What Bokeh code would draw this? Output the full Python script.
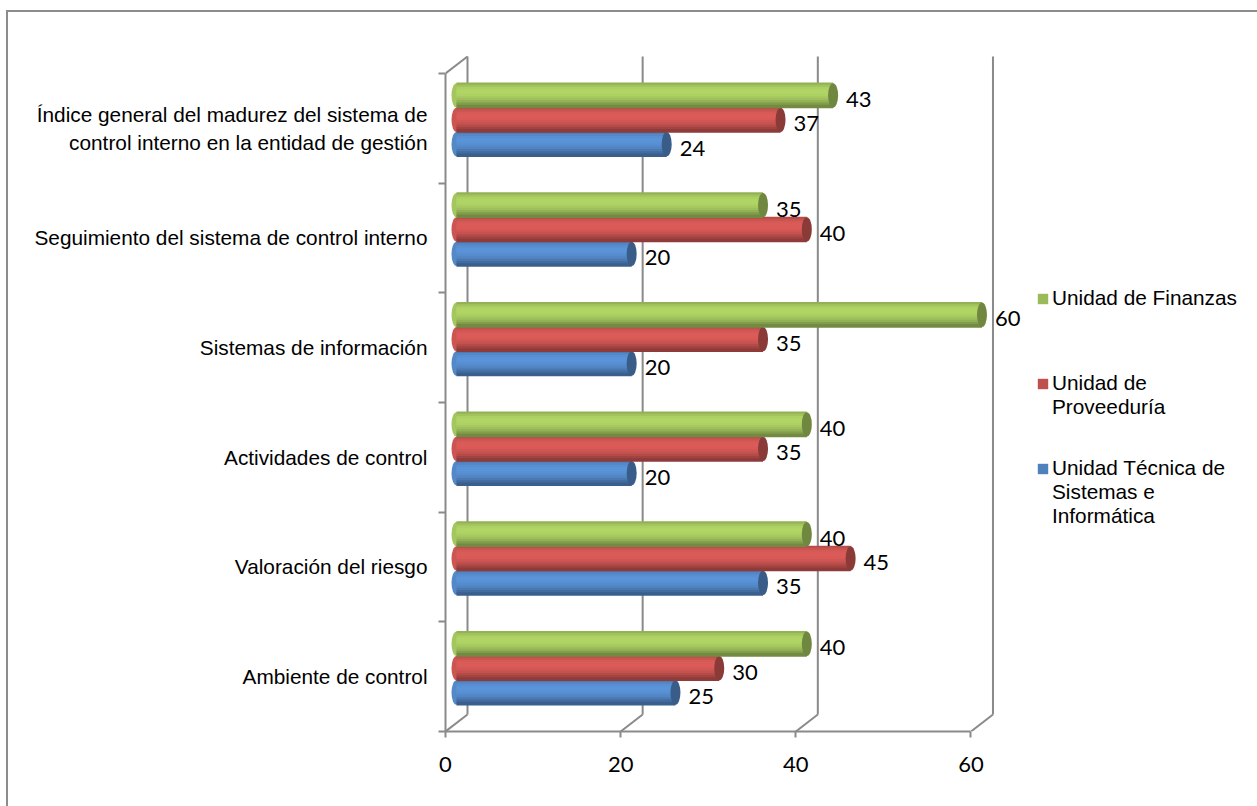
from bokeh.plotting import figure
from bokeh.models import Range1d, FixedTicker, Legend, LegendItem
from bokeh.embed import file_html
from bokeh.resources import INLINE
from bokeh.core.properties import value

# ---------------- data ----------------
categories = [
    "Ambiente de control",
    "Valoración del riesgo",
    "Actividades de control",
    "Sistemas de información",
    "Seguimiento del sistema de control interno",
    "Índice general del madurez del sistema de\ncontrol interno en la entidad de gestión",
]
series_names = [
    "Unidad Técnica de\nSistemas e\nInformática",
    "Unidad de\nProveeduría",
    "Unidad de Finanzas",
]
tecnica = [25, 35, 20, 20, 20, 24]
proveeduria = [30, 45, 35, 35, 40, 37]
finanzas = [40, 40, 40, 60, 35, 43]
x_ticks = [0, 20, 40, 60]

series_values = [tecnica, proveeduria, finanzas]
series_colors = ["#4F81BD", "#C0504D", "#9BBB59"]

# ---------------- geometry (px -> data) ----------------
PXU = 8.758          # px per value unit
CATPX = 109.67       # px per category
W, H = 1257, 806
FL, FB, FT, FR = 445, 731, 12, 1255   # frame edges in px

DXB = 22 / PXU       # back wall depth offset (x)
DYB = 17 / CATPX     # back wall depth offset (y)
DXM = DXB / 2        # bars at mid depth
DYM = DYB / 2
BAR_H = 0.2222       # bar thickness in category units

GRID = "#8a8a8a"

p = figure(width=W, height=H, output_backend="svg", toolbar_location=None,
           x_range=Range1d(0, (FR - FL) / PXU), y_range=Range1d(0, (FB - FT) / CATPX),
           min_border_left=FL, min_border_right=W - FR, min_border_top=FT,
           min_border_bottom=H - FB)
p.background_fill_color = "white"
p.border_fill_color = None
p.outline_line_color = None
p.xgrid.visible = False
p.ygrid.visible = False
# outer chart border (top/left edges, the rest lies outside the window)
p.styles = {"box-shadow": "inset 6px 10px 0 0 #ffffff, inset 8px 12px 0 0 #8c8c8c",
            "background-color": "#ffffff"}

# ---------------- walls ----------------
vmax = x_ticks[-1]
ncat = len(categories)
p.segment(x0=[t + DXB for t in x_ticks], y0=[DYB] * len(x_ticks),
          x1=[t + DXB for t in x_ticks], y1=[ncat + DYB] * len(x_ticks),
          line_color=GRID, line_width=2)
p.segment(x0=x_ticks, y0=[0] * len(x_ticks),
          x1=[t + DXB for t in x_ticks], y1=[DYB] * len(x_ticks),
          line_color=GRID, line_width=2)
p.segment(x0=[0], y0=[ncat], x1=[DXB], y1=[ncat + DYB], line_color=GRID, line_width=2)


# ---------------- cylinders ----------------
def shade(hx, f):
    r, g, b = int(hx[1:3], 16), int(hx[3:5], 16), int(hx[5:7], 16)
    c = [max(0, min(255, int(round(v * f)))) for v in (r, g, b)]
    return "#%02x%02x%02x" % tuple(c)


profile = [0.95, 1.05, 1.11, 1.14, 1.14, 1.12, 1.08, 1.02, 0.94, 0.84, 0.74]
N = len(profile)
offsets = [-BAR_H, 0.0, BAR_H]
legend_renderers = []

for s, (vals, col, off) in enumerate(zip(series_values, series_colors, offsets)):
    yc = [i + 0.5 + DYM + off for i in range(ncat)]
    # left rounded end
    p.ellipse(x=[DXM] * ncat, y=yc, width=10 / PXU, height=BAR_H,
              fill_color=shade(col, 1.06), line_color=None)
    for k, f in enumerate(profile):
        ys = [y + BAR_H / 2 - (k + 0.5) * BAR_H / N for y in yc]
        p.hbar(y=ys, left=[DXM] * ncat, right=[v + DXM for v in vals],
               height=BAR_H / N * 1.6, fill_color=shade(col, f), line_color=None)
    # right end cap
    p.ellipse(x=[v + DXM for v in vals], y=yc, width=10 / PXU, height=BAR_H,
              fill_color=shade(col, 0.72), line_color=None)
    # renderer carrying the series colour for the legend (zero thickness)
    legend_renderers.append(
        p.hbar(y=yc, left=[DXM] * ncat, right=[v + DXM for v in vals], height=0,
               fill_color=col, line_color=None))
    # data labels
    p.text(x=[v + DXM for v in vals], y=yc, text=[str(v) for v in vals],
           x_offset=13, y_offset=4, text_baseline="middle", text_align="left",
           text_font=value("Lato"), text_font_size="22px", text_color="black")

# ---------------- axes ----------------
xa = p.xaxis[0]
xa.ticker = FixedTicker(ticks=x_ticks)
xa.bounds = (0, vmax)
xa.axis_line_color = GRID
xa.axis_line_width = 2
xa.major_tick_line_color = GRID
xa.major_tick_line_width = 2
xa.major_tick_out = 6
xa.major_tick_in = 0
xa.minor_tick_line_color = None
xa.major_label_text_font = "Lato"
xa.major_label_text_font_size = "22px"
xa.major_label_text_color = "black"
xa.major_label_standoff = 19

ya = p.yaxis[0]
centers = [i + 0.5 for i in range(ncat)]
ya.ticker = FixedTicker(ticks=centers, minor_ticks=list(range(ncat + 1)))
ya.major_label_overrides = {c: lab for c, lab in zip(centers, categories)}
ya.bounds = (0, ncat)
ya.axis_line_color = GRID
ya.axis_line_width = 2
ya.major_tick_line_color = None
ya.major_tick_out = 0
ya.major_tick_in = 0
ya.minor_tick_line_color = GRID
ya.minor_tick_line_width = 2
ya.minor_tick_out = 7
ya.minor_tick_in = 0
ya.major_label_text_font = "Liberation Sans"
ya.major_label_text_font_size = "20.8px"
ya.major_label_text_color = "black"
ya.major_label_standoff = 11

# ---------------- legend (one block per series, swatch on first line) ----------------
LINE = 24  # px per legend text line
first_line_px = [298, 383, 468]   # top-to-bottom legend entries
for (name, r), cy in zip(reversed(list(zip(series_names, legend_renderers))), first_line_px):
    nlines = name.count("\n") + 1
    lab = "\n" * (nlines - 1) + name        # pad so the swatch sits beside line one
    total = 2 * nlines - 1
    bottom_px = cy + total * LINE / 2
    leg = Legend(items=[LegendItem(label=lab, renderers=[r])],
                 location=(591, FB - bottom_px), orientation="vertical",
                 glyph_width=13, glyph_height=13, label_standoff=3,
                 label_height=LINE, spacing=0, padding=0, margin=0,
                 border_line_color=None, background_fill_alpha=0,
                 label_text_font="Liberation Sans", label_text_font_size="20.8px",
                 label_text_color="black")
    p.add_layout(leg)

open("out.html", "w").write(file_html(p, INLINE))
